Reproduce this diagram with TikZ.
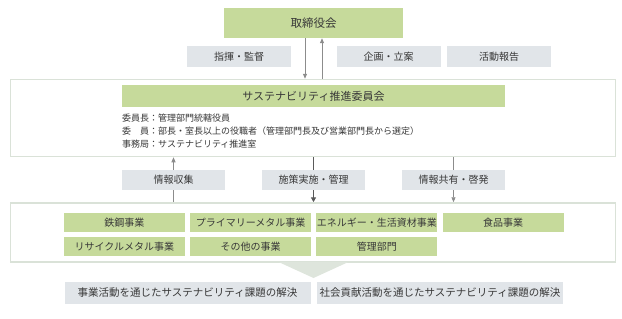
\documentclass[tikz,border=0pt]{standalone}
\usepackage{fontspec}
\setmainfont{Noto Sans CJK JP}
\usetikzlibrary{arrows.meta}
\pgfdeclarelayer{bg}
\pgfsetlayers{bg,main}
\definecolor{grn}{HTML}{C6DA9B}
\definecolor{lgray}{HTML}{E1E5E9}
\definecolor{framec}{HTML}{DAE2D8}
\definecolor{chev}{HTML}{DEE5DC}
\definecolor{txt}{HTML}{383838}
\definecolor{arr}{HTML}{8C8C8C}
\definecolor{arrdark}{HTML}{5A5A5A}
\begin{document}
\begin{tikzpicture}[x=1pt,y=-1pt,
  gbox/.style={fill=grn, inner sep=0pt, text=txt, minimum width=121pt, minimum height=19pt, font=\fontsize{10}{12}\selectfont},
  lbl/.style={fill=lgray, inner sep=0pt, text=txt, minimum height=21pt, font=\fontsize{10}{12}\selectfont},
  outer/.style={draw=framec, line width=1.5pt, fill=white, inner sep=0pt},
  bodytxt/.style={anchor=west, inner sep=0pt, text=txt, font=\fontsize{9}{11}\selectfont},
  thinarr/.style={draw=arr, line width=0.8pt, -{Triangle[length=5pt,width=4pt]}},
  thickarr/.style={draw=arrdark, line width=1.8pt, -{Triangle[length=5pt,width=5pt]}}
]
\useasboundingbox (0,0) rectangle (622,319);

% top board
\node[fill=grn, inner sep=0pt, text=txt, minimum width=179pt, minimum height=30pt, font=\fontsize{11.5}{13}\selectfont] (board) at (313.5,23) {取締役会};

% top labels
\node[lbl, minimum width=104pt] (t1) at (239,56.5) {指揮・監督};
\node[lbl, minimum width=104pt] (t2) at (388.5,56.5) {企画・立案};
\node[lbl, minimum width=104pt] (t3) at (499,56.5) {活動報告};

% committee box
\node[outer, minimum width=605pt, minimum height=77pt] (comm) at (313,118) {};
\node[fill=grn, inner sep=0pt, text=txt, minimum width=383pt, minimum height=22pt, font=\fontsize{11}{13}\selectfont] (head) at (313.5,96) {サステナビリティ推進委員会};
\node[bodytxt] (r1) at (122,118) {委員長：管理部門統轄役員};
\node[bodytxt] (r2) at (122,131) {委　員：部長・室長以上の役職者（管理部門長及び営業部門長から選定）};
\node[bodytxt] (r3) at (122,144) {事務局：サステナビリティ推進室};

% middle labels
\node[lbl, minimum width=103pt, minimum height=20pt] (l1) at (173.5,180) {情報収集};
\node[lbl, minimum width=103pt, minimum height=20pt] (l2) at (313.5,180) {施策実施・管理};
\node[lbl, minimum width=103pt, minimum height=20pt] (l3) at (453.5,180) {情報共有・啓発};

% lower box
\node[outer, minimum width=605pt, minimum height=59pt] (lower) at (313,232.5) {};
\node[gbox] (g1) at (124.3,222.5) {鉄鋼事業};
\node[gbox] (g2) at (250.6,222.5) {プライマリーメタル事業};
\node[gbox] (g3) at (376.9,222.5) {エネルギー・生活資材事業};
\node[gbox] (g4) at (503.2,222.5) {食品事業};
\node[gbox] (g5) at (124.3,246.5) {リサイクルメタル事業};
\node[gbox] (g6) at (250.6,246.5) {その他の事業};
\node[gbox] (g7) at (376.9,246.5) {管理部門};

% chevron
\fill[chev] (279,262.2) -- (348,262.2) -- (313.5,278) -- cycle;

% bottom boxes
\node[lbl, minimum width=246pt, minimum height=22pt, font=\fontsize{10.5}{12}\selectfont] (b1) at (187.5,293) {事業活動を通じたサステナビリティ課題の解決};
\node[lbl, minimum width=246pt, minimum height=22pt, font=\fontsize{10.5}{12}\selectfont] (b2) at (440,293) {社会貢献活動を通じたサステナビリティ課題の解決};

% connectors
\begin{pgfonlayer}{bg}
\draw[thinarr] ([xshift=-8.5pt]board.south) -- ([xshift=-8.5pt]board.south |- comm.north);
\draw[thinarr] ([xshift=8.5pt]board.south |- comm.north) -- ([xshift=8.5pt]board.south);
\draw[thinarr] (l1.center |- lower.north) -- (l1.center |- comm.south);
\draw[thickarr] (l2.center |- comm.south) -- (l2.center |- lower.north);
\draw[thinarr] (l3.center |- comm.south) -- (l3.center |- lower.north);
\end{pgfonlayer}
\end{tikzpicture}
\end{document}
